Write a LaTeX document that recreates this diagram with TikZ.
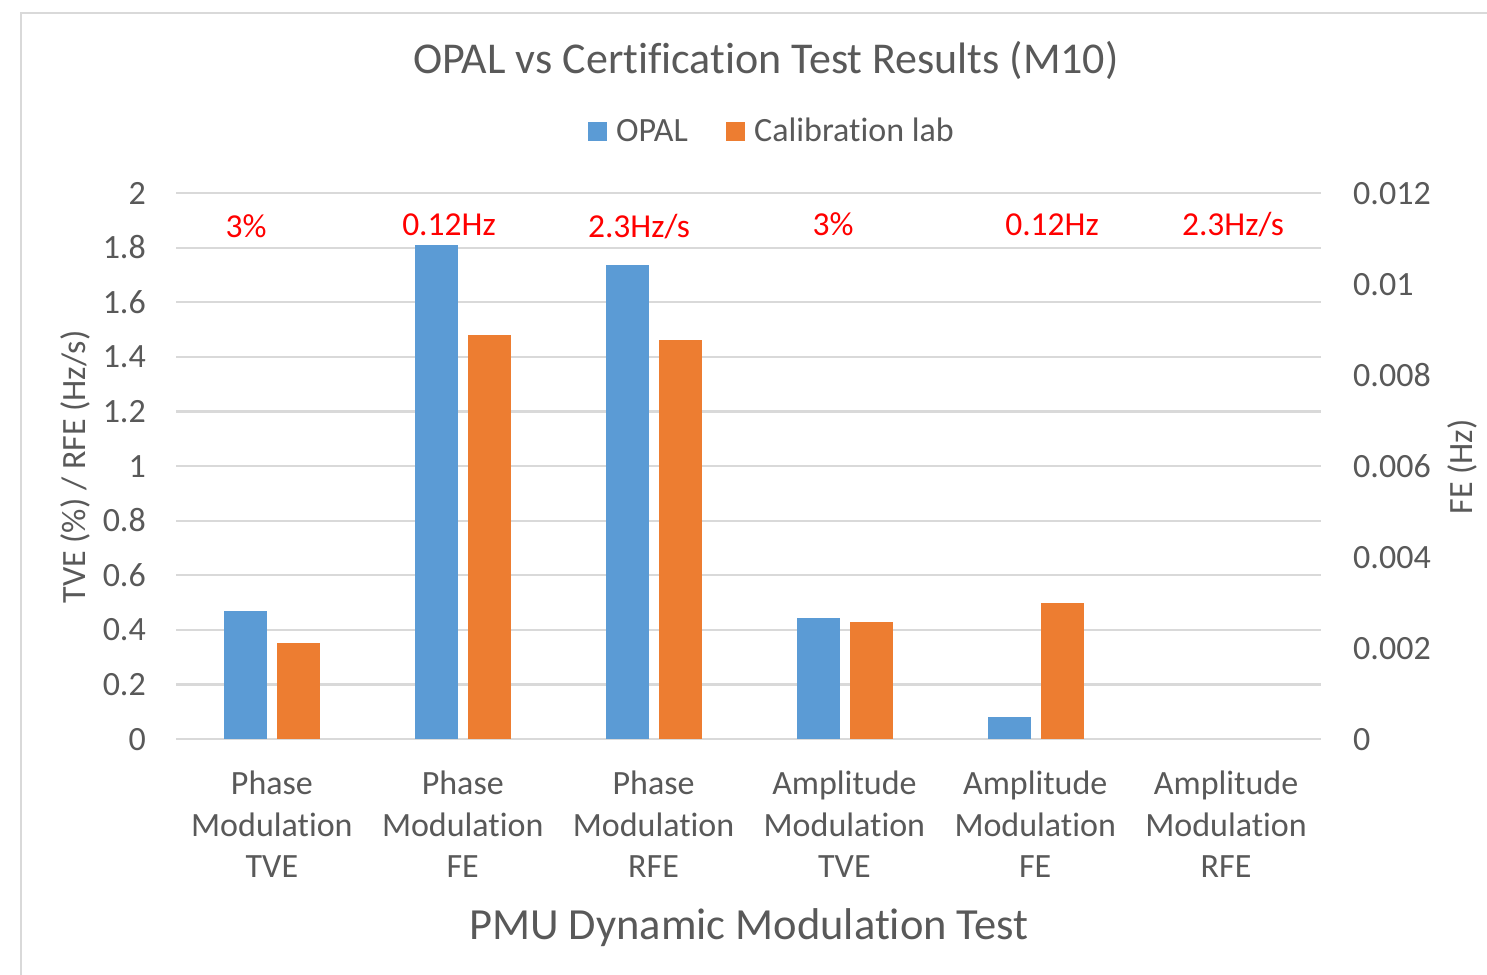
\documentclass[tikz,border=0pt]{standalone}
\usepackage{fontspec}
\setmainfont{Carlito}[Ligatures=NoCommon]
\definecolor{txt}{HTML}{595959}
\definecolor{gridc}{HTML}{D9D9D9}
\definecolor{opalc}{HTML}{5B9BD5}
\definecolor{calc}{HTML}{ED7D31}
\definecolor{redc}{HTML}{FF0000}
\begin{document}
\begin{tikzpicture}[x=1pt,y=-1pt,
  lbl/.style={text=txt,font=\fontsize{34}{41.5}\selectfont,inner sep=0pt},
  ticklbl/.style={lbl,anchor=base east},
  rticklbl/.style={lbl,anchor=base west},
  catlbl/.style={lbl,align=center,anchor=north},
  redlbl/.style={text=redc,font=\fontsize{33.5}{40}\selectfont,inner sep=0pt,anchor=base},
  gridline/.style={draw=gridc,line width=2.2pt},
  border/.style={draw=gridc,line width=2.2pt},
  opalbar/.style={fill=opalc},
  calbar/.style={fill=calc}]
\useasboundingbox (0,0) rectangle (1487,974);
\fill[white] (0,0) rectangle (1487,974);
\draw[border] (21,976) -- (21,13) -- (1489,13);
% gridlines
\foreach \i in {0,...,10}{
  \draw[gridline] (176,{739-54.6*\i}) -- (1321,{739-54.6*\i});
}
% left tick labels
\foreach \i/\t in {0/0,1/0.2,2/0.4,3/0.6,4/0.8,5/1,6/1.2,7/1.4,8/1.6,9/1.8,10/2}{
  \node[ticklbl] (lt\i) at (146,{739-54.6*\i+11}) {\t};
}
% right tick labels
\foreach \i/\t in {0/0,1/0.002,2/0.004,3/0.006,4/0.008,5/0.01,6/0.012}{
  \node[rticklbl] (rt\i) at (1353,{739-91*\i+11}) {\t};
}
% bars
\foreach \k/\a/\b in {0/0.47/0.35,1/1.81/1.48,2/1.736/1.46,3/0.443/0.429,4/0.08/0.498}{
  \pgfmathsetmacro{\c}{176+190.83*(\k+0.5)+1}
  \fill[opalbar] ({\c-48},739) rectangle ({\c-5},{739-273*\a});
  \fill[calbar] ({\c+5},739) rectangle ({\c+48},{739-273*\b});
}
% red annotations
\node[redlbl] (r1) at (246,237) {3\%};
\node[redlbl] (r2) at (449,235) {0.12Hz};
\node[redlbl] (r3) at (639,237) {2.3Hz/s};
\node[redlbl] (r4) at (833,235) {3\%};
\node[redlbl] (r5) at (1052,235) {0.12Hz};
\node[redlbl] (r6) at (1233,235) {2.3Hz/s};
% category labels
\foreach \k/\t in {0/{Phase\\Modulation\\TVE},1/{Phase\\Modulation\\FE},2/{Phase\\Modulation\\RFE},3/{Amplitude\\Modulation\\TVE},4/{Amplitude\\Modulation\\FE},5/{Amplitude\\Modulation\\RFE}}{
  \node[catlbl] (cat\k) at ({176+190.83*(\k+0.5)+0.5},771) {\t};
}
% title
\node[text=txt,font=\fontsize{44}{50}\selectfont,inner sep=0pt,anchor=base] (title) at (766,74) {OPAL vs Certification Test Results (M10)};
% legend
\fill[opalbar] (588,122) rectangle (606.5,141);
\node[lbl,anchor=base west] (leg1) at (616,141.5) {OPAL};
\fill[calbar] (726,122) rectangle (744.5,141);
\node[lbl,anchor=base west] (leg2) at (754,141.5) {Calibration lab};
% axis titles
\node[lbl,rotate=90] (ytitle) at (75,467) {TVE (\%) / RFE (Hz/s)};
\node[lbl,rotate=90] (y2title) at (1462,467) {FE (Hz)};
\node[text=txt,font=\fontsize{44.5}{50}\selectfont,inner sep=0pt,anchor=base] (xtitle) at (749,939) {PMU Dynamic Modulation Test};
\end{tikzpicture}
\end{document}
